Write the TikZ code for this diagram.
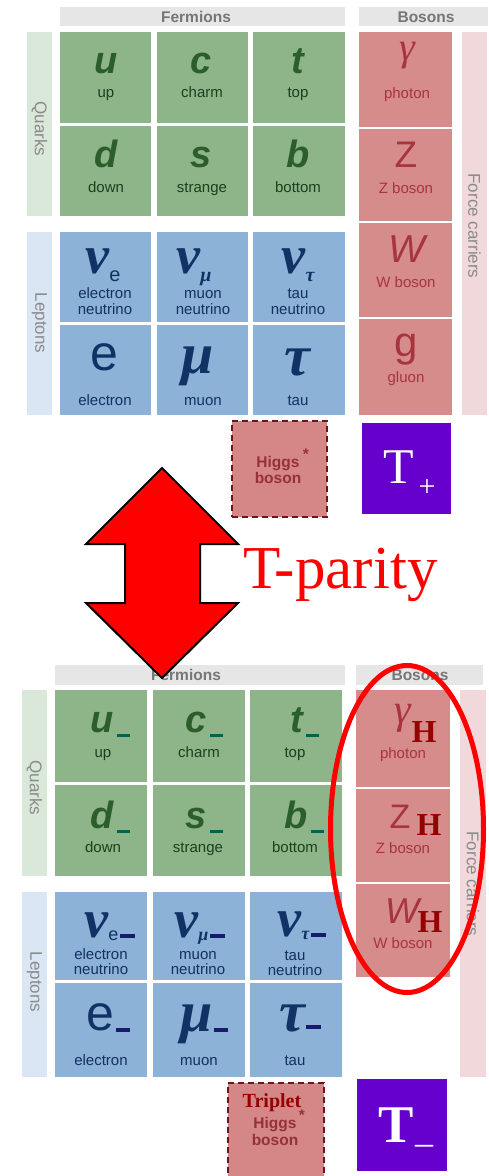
\documentclass[tikz,border=0pt]{standalone}
\usepackage{fontspec}
\setmainfont{Liberation Sans}
\newfontfamily\serif{Liberation Serif}
\usetikzlibrary{shapes.geometric}
\definecolor{gcell}{RGB}{141,181,137}
\definecolor{gsym}{RGB}{44,94,44}
\definecolor{glab}{RGB}{30,62,30}
\definecolor{gbar}{RGB}{218,232,218}
\definecolor{bcell}{RGB}{140,178,216}
\definecolor{bsym}{RGB}{16,50,100}
\definecolor{blab}{RGB}{20,48,95}
\definecolor{bbar}{RGB}{218,230,243}
\definecolor{rcell}{RGB}{215,140,140}
\definecolor{rsym}{RGB}{168,52,62}
\definecolor{rbar}{RGB}{241,217,219}
\definecolor{hdr}{RGB}{230,230,230}
\definecolor{hdrtxt}{RGB}{118,118,118}
\definecolor{sidetxt}{RGB}{138,138,138}
\definecolor{higgs}{RGB}{213,135,135}
\definecolor{higgsb}{RGB}{110,20,30}
\definecolor{higgst}{RGB}{150,50,55}
\definecolor{tpurple}{RGB}{102,0,204}
\definecolor{qminus}{RGB}{0,100,80}
\definecolor{lminus}{RGB}{25,25,110}
\definecolor{hred}{RGB}{150,0,0}
\newcommand{\fs}[1]{\fontsize{#1}{#1}\selectfont}
\newcommand{\qsymf}{\fs{38}\bfseries\itshape}
\newcommand{\nusymf}{\serif\fs{54}\bfseries\itshape}
\newcommand{\qminusbar}{\hspace{3pt}\textcolor{qminus}{\rule[-5pt]{13pt}{3.5pt}}}
\newcommand{\lminusbar}{\hspace{2pt}\textcolor{lminus}{\rule[-1pt]{15pt}{4pt}}}
\begin{document}
\begin{tikzpicture}[x=1pt,y=-1pt,
  box/.style={rectangle, inner sep=0, outer sep=0, anchor=north west, draw=none},
  txt/.style={inner sep=0, outer sep=0, anchor=base},
  hdrtext/.style={inner sep=0, anchor=center, text=hdrtxt, font=\fs{15.5}\bfseries},
  side/.style={inner sep=0, anchor=center, rotate=-90, text=sidetxt, font=\fs{17}},
  glabel/.style={txt, text=glab, font=\fs{15}},
  blabel/.style={txt, text=blab, font=\fs{15}},
  rlabel/.style={txt, text=rsym, font=\fs{15}},
  gsymbol/.style={txt, text=gsym, font=\qsymf},
  bsymbol/.style={txt, text=bsym},
  rsymbol/.style={txt, text=rsym},
  hsub/.style={txt, text=hred, font=\serif\fs{32}\bfseries},
  higgsbox/.style={box, fill=higgs, draw=higgsb, dash pattern=on 6pt off 4pt, line width=1.2pt},
  higgstext/.style={txt, text=higgst, font=\fs{15.5}\bfseries},
]
\useasboundingbox (0,0) rectangle (488,1176);
\fill[white] (0,0) rectangle (488,1176);

% ================= TOP TABLE =================
\node[box, fill=hdr, minimum width=285pt, minimum height=19pt] (fh1) at (60,7) {};
\node[hdrtext] (fh1t) at (196,17) {Fermions};
\node[box, fill=hdr, minimum width=129pt, minimum height=19pt] (bh1) at (359,7) {};
\node[hdrtext] (bh1t) at (426,17) {Bosons};

\node[box, fill=gbar, minimum width=25pt, minimum height=184pt] (qb1) at (27,32) {};
\node[side] (qb1t) at (39.5,129) {Quarks};
\node[box, fill=bbar, minimum width=25pt, minimum height=183pt] (lb1) at (27,232) {};
\node[side] (lb1t) at (39.5,323) {Leptons};
\node[box, fill=rbar, minimum width=25pt, minimum height=383pt] (fb1) at (462,32) {};
\node[side] (fb1t) at (474.5,226) {Force carriers};

% quarks
\node[box, fill=gcell, minimum width=91pt, minimum height=91pt] (u1) at (60,32) {};
\node[box, fill=gcell, minimum width=91pt, minimum height=91pt] (c1) at (157,32) {};
\node[box, fill=gcell, minimum width=92pt, minimum height=91pt] (t1) at (253,32) {};
\node[box, fill=gcell, minimum width=91pt, minimum height=90pt] (d1) at (60,126) {};
\node[box, fill=gcell, minimum width=91pt, minimum height=90pt] (s1) at (157,126) {};
\node[box, fill=gcell, minimum width=92pt, minimum height=90pt] (b1) at (253,126) {};
\node[gsymbol] (u1s) at (106,73) {u};
\node[glabel] (u1l) at (106,97) {up};
\node[gsymbol] (c1s) at (201,73) {c};
\node[glabel] (c1l) at (202,97) {charm};
\node[gsymbol] (t1s) at (298,73) {t};
\node[glabel] (t1l) at (298,97) {top};
\node[gsymbol] (d1s) at (106,167) {d};
\node[glabel] (d1l) at (106,192) {down};
\node[gsymbol] (s1s) at (201,167) {s};
\node[glabel] (s1l) at (202,192) {strange};
\node[gsymbol] (b1s) at (298,167) {b};
\node[glabel] (b1l) at (298,192) {bottom};

% leptons
\node[box, fill=bcell, minimum width=91pt, minimum height=90pt] (ne1) at (60,232) {};
\node[box, fill=bcell, minimum width=91pt, minimum height=90pt] (nm1) at (157,232) {};
\node[box, fill=bcell, minimum width=92pt, minimum height=90pt] (nt1) at (253,232) {};
\node[box, fill=bcell, minimum width=91pt, minimum height=90pt] (e1) at (60,325) {};
\node[box, fill=bcell, minimum width=91pt, minimum height=90pt] (m1) at (157,325) {};
\node[box, fill=bcell, minimum width=92pt, minimum height=90pt] (ta1) at (253,325) {};
\node[bsymbol] (ne1s) at (103,273) {{\nusymf ν}\raisebox{-8pt}{\fs{20}e}};
\node[blabel] (ne1l) at (105,298) {electron};
\node[blabel] (ne1m) at (105,314) {neutrino};
\node[bsymbol] (nm1s) at (194,273) {{\nusymf ν}\raisebox{-8pt}{\serif\fs{20}\bfseries\itshape μ}};
\node[blabel] (nm1l) at (203,298) {muon};
\node[blabel] (nm1m) at (203,314) {neutrino};
\node[bsymbol] (nt1s) at (298,273) {{\nusymf ν}\raisebox{-8pt}{\serif\fs{20}\bfseries\itshape τ}};
\node[blabel] (nt1l) at (298,298) {tau};
\node[blabel] (nt1m) at (298,314) {neutrino};
\node[bsymbol, font=\fs{50}] (e1s) at (104,370) {e};
\node[blabel] (e1l) at (105,405) {electron};
\node[bsymbol, font=\serif\fs{58}\bfseries\itshape] (m1s) at (198,373) {μ};
\node[blabel] (m1l) at (203,405) {muon};
\node[bsymbol, font=\serif\fs{58}\bfseries\itshape] (ta1s) at (297,375) {τ};
\node[blabel] (ta1l) at (298,405) {tau};

% bosons
\node[box, fill=rcell, minimum width=93pt, minimum height=95pt] (ga1) at (359,32) {};
\node[box, fill=rcell, minimum width=93pt, minimum height=92pt] (z1) at (359,129) {};
\node[box, fill=rcell, minimum width=93pt, minimum height=94pt] (w1) at (359,223) {};
\node[box, fill=rcell, minimum width=93pt, minimum height=96pt] (gl1) at (359,319) {};
\node[rsymbol, font=\serif\fs{40}\itshape] (ga1s) at (407,60) {γ};
\node[rlabel] (ga1l) at (407,98) {photon};
\node[rsymbol, font=\fs{37}] (z1s) at (406,167) {Z};
\node[rlabel] (z1l) at (406,193) {Z boson};
\node[rsymbol, font=\fs{39}\itshape] (w1s) at (407,262) {W};
\node[rlabel] (w1l) at (406,287) {W boson};
\node[rsymbol, font=\fs{42}] (gl1s) at (406,356) {g};
\node[rlabel] (gl1l) at (406,382) {gluon};

% Higgs and T+
\node[higgsbox, minimum width=95pt, minimum height=96pt] (h1) at (232,421) {};
\node[higgstext] (h1a) at (278,467) {Higgs};
\node[higgstext] (h1b) at (278,483) {boson};
\node[higgstext] (h1c) at (306,459) {*};
\node[box, fill=tpurple, minimum width=89pt, minimum height=91pt] (tp1) at (362,423) {};
\node[txt, text=white, font=\serif\fs{50}] (tp1a) at (399,483) {T};
\node[inner sep=0, anchor=center, text=white, font=\serif\fs{30}] (tp1b) at (427,488) {+};

% ================= BOTTOM TABLE =================
\node[box, fill=hdr, minimum width=290pt, minimum height=20pt] (fh2) at (55,665) {};
\node[hdrtext] (fh2t) at (186,675) {Fermions};
\node[box, fill=hdr, minimum width=127pt, minimum height=20pt] (bh2) at (356,665) {};
\node[hdrtext] (bh2t) at (420,675) {Bosons};

\node[box, fill=gbar, minimum width=25pt, minimum height=186pt] (qb2) at (22,690) {};
\node[side] (qb2t) at (34.5,788) {Quarks};
\node[box, fill=bbar, minimum width=25pt, minimum height=185pt] (lb2) at (22,892) {};
\node[side] (lb2t) at (34.5,982) {Leptons};
\node[box, fill=rbar, minimum width=26pt, minimum height=387pt] (fb2) at (460,690) {};
\node[side] (fb2t) at (473,884) {Force carriers};

% quarks
\node[box, fill=gcell, minimum width=92pt, minimum height=92pt] (u2) at (55,690) {};
\node[box, fill=gcell, minimum width=92pt, minimum height=92pt] (c2) at (153,690) {};
\node[box, fill=gcell, minimum width=92pt, minimum height=92pt] (t2) at (250,690) {};
\node[box, fill=gcell, minimum width=92pt, minimum height=91pt] (d2) at (55,785) {};
\node[box, fill=gcell, minimum width=92pt, minimum height=91pt] (s2) at (153,785) {};
\node[box, fill=gcell, minimum width=92pt, minimum height=91pt] (b2) at (250,785) {};
\node[gsymbol] (u2s) at (110,732) {u\qminusbar};
\node[glabel] (u2l) at (103,757) {up};
\node[gsymbol] (c2s) at (204,732) {c\qminusbar};
\node[glabel] (c2l) at (199,757) {charm};
\node[gsymbol] (t2s) at (305,732) {t\qminusbar};
\node[glabel] (t2l) at (295,757) {top};
\node[gsymbol] (d2s) at (110,828) {d\qminusbar};
\node[glabel] (d2l) at (103,852) {down};
\node[gsymbol] (s2s) at (204,828) {s\qminusbar};
\node[glabel] (s2l) at (198,852) {strange};
\node[gsymbol] (b2s) at (304,828) {b\qminusbar};
\node[glabel] (b2l) at (295,852) {bottom};

% leptons
\node[box, fill=bcell, minimum width=92pt, minimum height=88pt] (ne2) at (55,892) {};
\node[box, fill=bcell, minimum width=92pt, minimum height=88pt] (nm2) at (153,892) {};
\node[box, fill=bcell, minimum width=92pt, minimum height=88pt] (nt2) at (250,892) {};
\node[box, fill=bcell, minimum width=92pt, minimum height=94pt] (e2) at (55,983) {};
\node[box, fill=bcell, minimum width=92pt, minimum height=94pt] (m2) at (153,983) {};
\node[box, fill=bcell, minimum width=92pt, minimum height=94pt] (ta2) at (250,983) {};
\node[bsymbol] (ne2s) at (110,937) {{\nusymf ν}\raisebox{-3pt}{\fs{18}e}\lminusbar};
\node[blabel] (ne2l) at (101,959) {electron};
\node[blabel] (ne2m) at (101,974) {neutrino};
\node[bsymbol] (nm2s) at (200,937) {{\nusymf ν}\raisebox{-3pt}{\serif\fs{18}\bfseries\itshape μ}\lminusbar};
\node[blabel] (nm2l) at (198,959) {muon};
\node[blabel] (nm2m) at (198,974) {neutrino};
\node[bsymbol] (nt2s) at (302,936) {{\nusymf ν}\raisebox{-3pt}{\serif\fs{18}\bfseries\itshape τ}\lminusbar};
\node[blabel] (nt2l) at (295,960) {tau};
\node[blabel] (nt2m) at (295,975) {neutrino};
\node[bsymbol] (e2s) at (108,1030) {{\fs{50}e}\hspace{2pt}\textcolor{lminus}{\rule[-2pt]{14pt}{4pt}}};
\node[blabel] (e2l) at (101,1065) {electron};
\node[bsymbol] (m2s) at (204,1031) {{\serif\fs{58}\bfseries\itshape μ}\hspace{1pt}\textcolor{lminus}{\rule[-1pt]{14pt}{4pt}}};
\node[blabel] (m2l) at (199,1065) {muon};
\node[bsymbol] (ta2s) at (300,1031) {{\serif\fs{58}\bfseries\itshape τ}\hspace{1pt}\textcolor{lminus}{\rule[2pt]{15pt}{4pt}}};
\node[blabel] (ta2l) at (295,1065) {tau};

% bosons
\node[box, fill=rcell, minimum width=94pt, minimum height=97pt] (ga2) at (356,690) {};
\node[box, fill=rcell, minimum width=94pt, minimum height=93pt] (z2) at (356,789) {};
\node[box, fill=rcell, minimum width=94pt, minimum height=93pt] (w2) at (356,884) {};
\node[rsymbol, font=\serif\fs{42}\itshape] (ga2s) at (403,723) {γ};
\node[hsub] (ga2h) at (424,742) {H};
\node[rlabel] (ga2l) at (403,758) {photon};
\node[rsymbol, font=\fs{34}] (z2s) at (400,828) {Z};
\node[hsub] (z2h) at (429,835) {H};
\node[rlabel] (z2l) at (403,853) {Z boson};
\node[rsymbol, font=\fs{36}\itshape] (w2s) at (402,923) {W};
\node[hsub] (w2h) at (430,932) {H};
\node[rlabel] (w2l) at (403,948) {W boson};

% Triplet Higgs and T-
\node[higgsbox, minimum width=96pt, minimum height=104pt] (h2) at (228,1083) {};
\node[txt, text=hred, font=\serif\fs{20}\bfseries] (h2t) at (272,1107) {Triplet};
\node[higgstext] (h2a) at (275,1128) {Higgs};
\node[higgstext] (h2b) at (275,1145) {boson};
\node[higgstext] (h2c) at (302,1120) {*};
\node[box, fill=tpurple, minimum width=90pt, minimum height=92pt] (tp2) at (357,1079) {};
\node[txt, text=white, font=\serif\fs{53}\bfseries] (tp2a) at (396,1142) {T};
\node[txt, text=white, font=\serif\fs{36}] (tp2b) at (424,1142) {\_};

% ellipse
\node[ellipse, draw=red, line width=5pt, inner sep=0, minimum width=153pt, minimum height=327pt] (oval) at (407,829) {};

% ================= T-PARITY ARROW =================
\draw[fill=red, draw=black, line width=2pt, line join=miter]
  (162,468) -- (238,544) -- (200,544) -- (200,603) -- (238,603) -- (162,678)
  -- (86,603) -- (125,603) -- (125,544) -- (86,544) -- cycle;
\node[anchor=base west, inner sep=0, text=red, font=\serif\fs{61}] (tpar) at (243,588) {T-parity};
\end{tikzpicture}
\end{document}
